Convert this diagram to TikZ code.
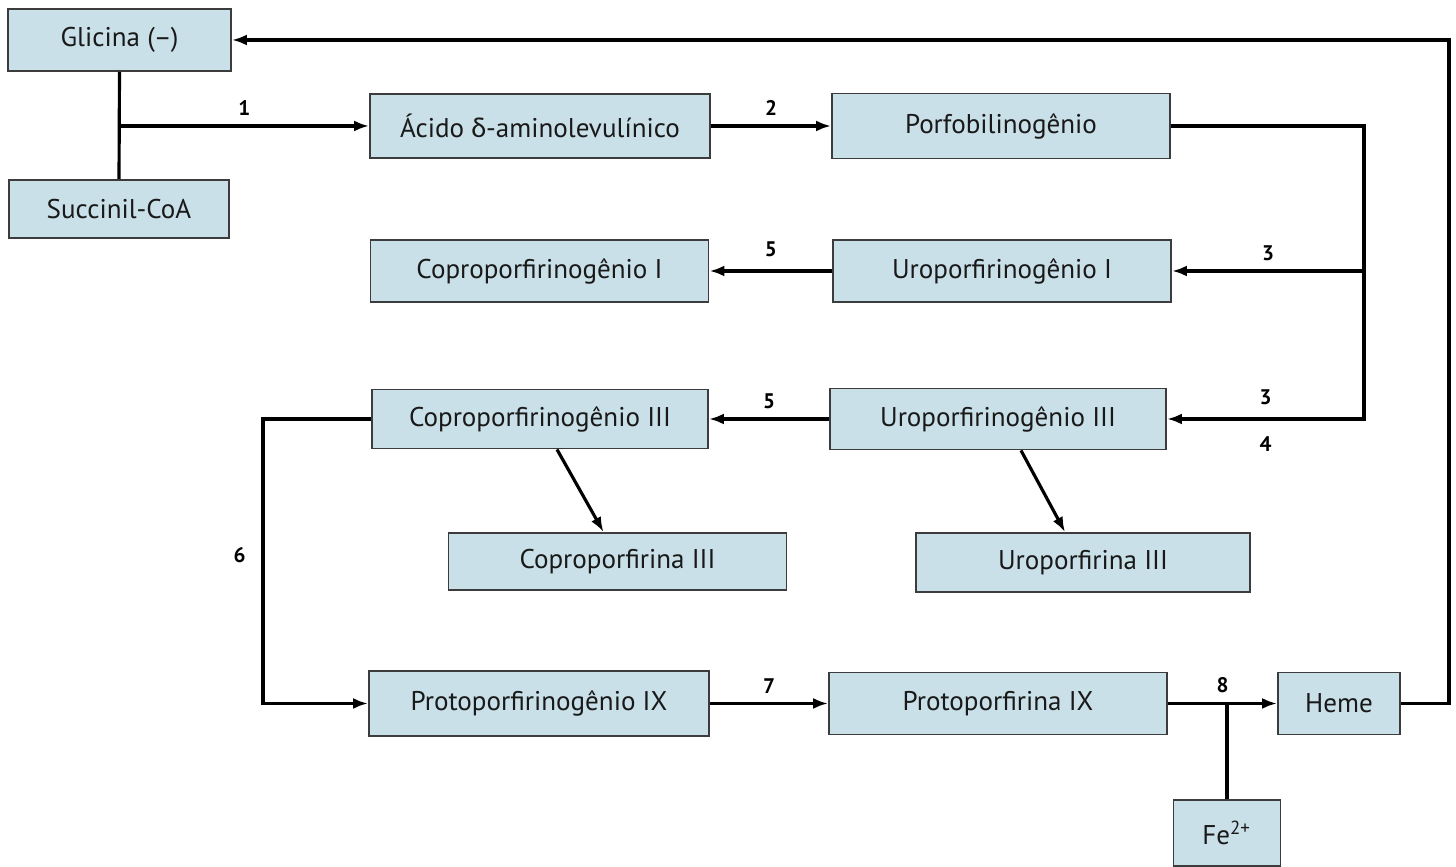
\documentclass[tikz,border=0pt]{standalone}
\usepackage{fontspec}
\setmainfont{PT Sans}
\newfontfamily\grk{Lato}
\usepackage{tikz}
\usetikzlibrary{arrows.meta,positioning,calc}
\definecolor{boxfill}{RGB}{201,224,232}
\definecolor{boxline}{RGB}{60,60,60}

\begin{document}
\begin{tikzpicture}[
    font=\fontsize{7.7}{8.5}\selectfont,
    box/.style={draw=boxline, line width=0.55pt, fill=boxfill, text=black!90,
                minimum width=3.38cm, minimum height=0.62cm, inner sep=0pt},
    flow/.style={line width=0.9pt, black},
    arr/.style={flow, -{Latex[length=1.5mm,width=1.1mm]}},
    num/.style={font=\fontsize{6}{7}\selectfont\bfseries, inner sep=2.5pt}
]
\useasboundingbox (0,0) rectangle (14.56,8.67);

% Compounds
\node[box, minimum width=2.23cm] (gly) at (1.195,8.27) {Glicina (--)};
\node[box, minimum width=2.20cm, minimum height=0.58cm] (suc) at (1.19,6.58) {Succinil-CoA};
\node[box, minimum width=3.40cm, minimum height=0.64cm] (ala) at (5.40,7.41) {Ácido {\grk δ}-aminolevulínico};
\node[box, minimum height=0.65cm] (pbg) at (10.01,7.41) {Porfobilinogênio};

\node[box] (cpI) at (5.395,5.96) {Coproporfirinogênio I};
\node[box] (upI) at (10.02,5.96) {Uroporfirinogênio I};

\node[box, minimum width=3.36cm, minimum height=0.59cm] (cpIII) at (5.40,4.48) {Coproporfirinogênio III};
\node[box, minimum width=3.36cm, minimum height=0.61cm] (upIII) at (9.98,4.48) {Uroporfirinogênio III};
\node[box, minimum height=0.57cm] (cpnIII) at (6.175,3.055) {Coproporfirina III};
\node[box, minimum width=3.34cm, minimum height=0.59cm] (upnIII) at (10.83,3.045) {Uroporfirina III};

\node[box, minimum width=3.40cm, minimum height=0.65cm] (ppg) at (5.39,1.635) {Protoporfirinogênio IX};
\node[box] (ppn) at (9.98,1.635) {Protoporfirina IX};
\node[box, minimum width=1.22cm] (heme) at (13.39,1.635) {Heme};
\node[box, minimum width=1.07cm, minimum height=0.66cm] (fe) at (12.27,0.34) {Fe\textsuperscript{2+}};

% Turning points of the long connectors
\coordinate (rside) at (13.64,7.41);
\coordinate (lside) at (2.63,0);
\coordinate (outer) at (14.49,0);

% Step 1
\draw[flow] (gly.south) -- (suc.north);
\draw[arr] (gly.south |- ala.west) -- node[num, above] (s1) {1} (ala.west);

% Step 2
\draw[arr] (ala.east) -- node[num, above] (s2) {2} (pbg.west);

% Steps 3 and 4
\draw[arr] (pbg.east) -- (rside) -- (rside |- upIII.east)
    -- node[num, above, yshift=1pt] (s3b) {3} node[num, below, yshift=-2pt] (s4) {4} (upIII.east);
\draw[arr] (rside |- upI.east) -- node[num, above] (s3a) {3} (upI.east);

% Step 5
\draw[arr] (upI.west) -- node[num, above, yshift=1pt] (s5a) {5} (cpI.east);
\draw[arr] (upIII.west) -- node[num, above] (s5b) {5} (cpIII.east);

% Oxidation to porphyrins
\draw[arr] ([xshift=0.17cm]cpIII.south) -- ([xshift=-0.14cm]cpnIII.north);
\draw[arr] ([xshift=0.23cm]upIII.south) -- ([xshift=-0.18cm]upnIII.north);

% Step 6
\draw[arr] (cpIII.west) -| node[num, left, pos=0.74, xshift=-2pt] (s6) {6} (lside |- ppg.west) -- (ppg.west);

% Step 7
\draw[arr] (ppg.east) -- node[num, above] (s7) {7} (ppn.west);

% Step 8 with iron
\draw[arr] (ppn.east) -- node[num, above] (s8) {8} (heme.west);
\draw[flow] (fe.north) -- (fe.north |- ppn.east);

% Feedback from heme
\draw[arr] (heme.east) -| (outer |- gly.east) -- (gly.east);

\end{tikzpicture}
\end{document}
